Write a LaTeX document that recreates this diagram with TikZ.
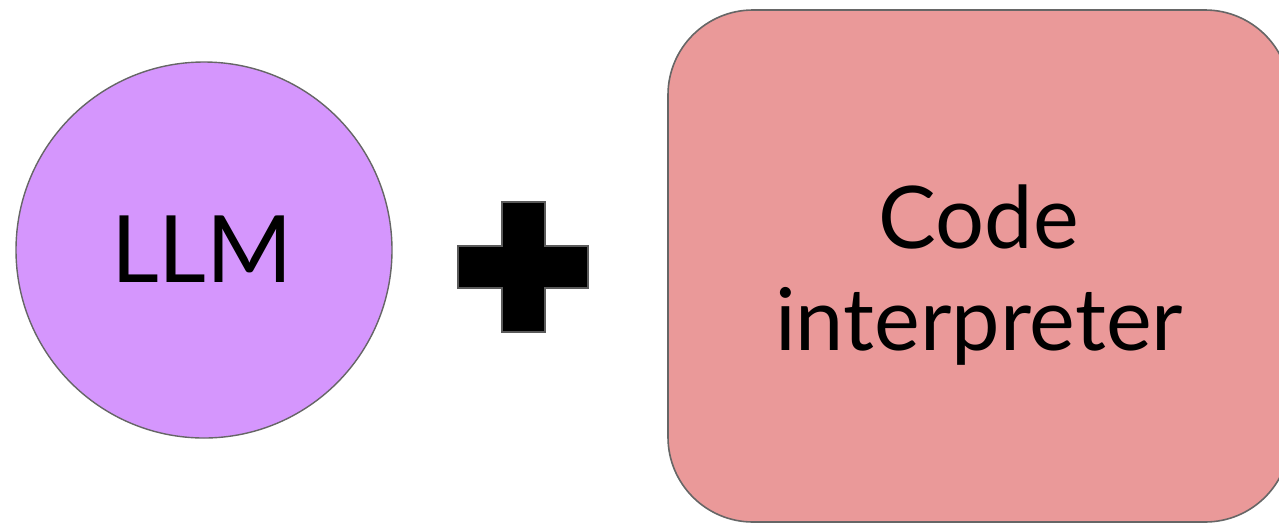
\documentclass[tikz,border=0pt]{standalone}
\usepackage{fontspec}
\setmainfont{Lato}
\definecolor{llmfill}{HTML}{D596FD}
\definecolor{codefill}{HTML}{EA9999}
\definecolor{edgegray}{HTML}{666666}
\definecolor{plusedge}{HTML}{5A5A5A}
\tikzset{
  llmnode/.style={circle, draw=edgegray, line width=1.4pt, fill=llmfill, minimum size=376pt, inner sep=0pt,
    font=\fontsize{93}{100}\selectfont},
  codebox/.style={rectangle, rounded corners=85pt, draw=edgegray, line width=1.6pt, fill=codefill,
    minimum width=622pt, minimum height=512pt, inner sep=0pt},
  codetext/.style={align=center, inner sep=0pt, font=\fontsize{86.5}{102}\selectfont},
  plusshape/.style={fill=black, draw=plusedge, line width=2pt}
}
\begin{document}
\begin{tikzpicture}[x=1pt,y=-1pt]
\useasboundingbox (0,0) rectangle (1279,523);
\node[llmnode] (llm) at (204,250) {};
\node[font=\fontsize{93}{100}\selectfont, inner sep=0pt] (llmlbl) at (202,249) {LLM};
\node[codebox] (code) at (979,266) {};
\node[codetext, yshift=-9pt] (codelbl) at (code.center) {Code\\interpreter};
\draw[plusshape] (502,202) -- (545,202) -- (545,246) -- (588,246) -- (588,288) -- (545,288)
  -- (545,332) -- (502,332) -- (502,288) -- (458,288) -- (458,246) -- (502,246) -- cycle;
\end{tikzpicture}
\end{document}
